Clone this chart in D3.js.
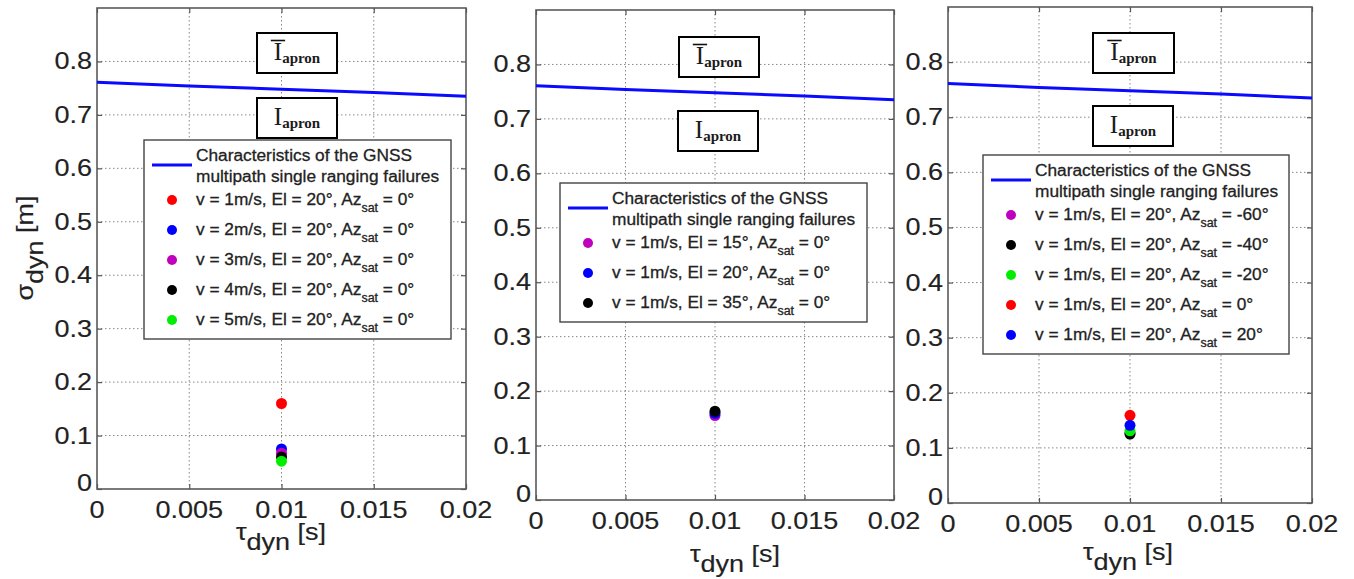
<!DOCTYPE html>
<html><head><meta charset="utf-8">
<script src="https://cdn.jsdelivr.net/npm/d3@7"></script>
<style>body{margin:0;background:#fff}svg{display:block}</style>
</head><body><svg id="c" width="1354" height="579"></svg>
<script>
// ---------- data ----------
const xTicks = [0, 0.005, 0.01, 0.015, 0.02];
const xTickLabels = ["0", "0.005", "0.01", "0.015", "0.02"];
const yTicks = [0, 0.1, 0.2, 0.3, 0.4, 0.5, 0.6, 0.7, 0.8];
const yTickLabels = ["0", "0.1", "0.2", "0.3", "0.4", "0.5", "0.6", "0.7", "0.8"];
const xLabel = ["τ", "dyn", " [s]"];
const yLabel = ["σ", "dyn", " [m]"];
const boundaryTau = [0, 0.005, 0.01, 0.015, 0.02];
const boundarySigma = [0.761, 0.754, 0.748, 0.742, 0.735];
const boundaryLabel = ["Characteristics of the GNSS", "multipath single ranging failures"];
const regionUpper = ["I", "apron", true];
const regionLower = ["I", "apron", false];

const panel1Labels = ["v = 1m/s, El = 20°, Az_{sat} = 0°", "v = 2m/s, El = 20°, Az_{sat} = 0°", "v = 3m/s, El = 20°, Az_{sat} = 0°", "v = 4m/s, El = 20°, Az_{sat} = 0°", "v = 5m/s, El = 20°, Az_{sat} = 0°"];
const panel1Colors = ["#ff0000", "#0000ff", "#bf00bf", "#000000", "#00ee00"];
const panel1Tau = [0.01, 0.01, 0.01, 0.01, 0.01];
const panel1Sigma = [0.16, 0.075, 0.067, 0.06, 0.052];

const panel2Labels = ["v = 1m/s, El = 15°, Az_{sat} = 0°", "v = 1m/s, El = 20°, Az_{sat} = 0°", "v = 1m/s, El = 35°, Az_{sat} = 0°"];
const panel2Colors = ["#bf00bf", "#0000ff", "#000000"];
const panel2Tau = [0.01, 0.01, 0.01];
const panel2Sigma = [0.155, 0.159, 0.163];

const panel3Labels = ["v = 1m/s, El = 20°, Az_{sat} = -60°", "v = 1m/s, El = 20°, Az_{sat} = -40°", "v = 1m/s, El = 20°, Az_{sat} = -20°", "v = 1m/s, El = 20°, Az_{sat} = 0°", "v = 1m/s, El = 20°, Az_{sat} = 20°"];
const panel3Colors = ["#bf00bf", "#000000", "#00ee00", "#ff0000", "#0000ff"];
const panel3Tau = [0.01, 0.01, 0.01, 0.01, 0.01];
const panel3Sigma = [0.127, 0.125, 0.131, 0.159, 0.141];

// ---------- layout ----------
const panels = [
  {l: 97, r: 466, t: 8, b: 489, lg: {x: 144, y: 140, w: 307}, up: [257, 33, 80, 40], lo: [257, 98, 80, 40],
   xl: [281, 540], yl: true, labels: panel1Labels, colors: panel1Colors, tau: panel1Tau, sigma: panel1Sigma},
  {l: 536, r: 894, t: 10, b: 500, lg: {x: 560, y: 183, w: 307}, up: [679, 37, 80, 40], lo: [678, 111, 80, 40],
   xl: [735, 562], yl: false, labels: panel2Labels, colors: panel2Colors, tau: panel2Tau, sigma: panel2Sigma},
  {l: 948, r: 1312, t: 7, b: 503, lg: {x: 983, y: 155, w: 306}, up: [1093, 33, 81, 40], lo: [1093, 106, 80, 40],
   xl: [1128, 560], yl: false, labels: panel3Labels, colors: panel3Colors, tau: panel3Tau, sigma: panel3Sigma}
];

const svg = d3.select("#c");
const FONT = "'Liberation Sans', Arial, Helvetica, sans-serif";
const SERIF = "'Liberation Serif', 'DejaVu Serif', serif";

function stext(g, x, y, size, anchor, rot, sx, sw) {
  const t = g.append("text")
    .attr("transform", `translate(${x},${y})${rot ? " rotate(" + rot + ")" : ""} scale(${sx || 1},1)`)
    .attr("font-family", FONT).attr("font-size", size).attr("fill", "#222")
    .attr("text-anchor", anchor || "start");
  if (sw) t.attr("stroke", "#222").attr("stroke-width", sw);
  return t;
}
function richText(t, str, size) {
  const re = /_\{([^}]*)\}/g;
  let last = 0, m;
  const parts = [];
  while ((m = re.exec(str))) {
    if (m.index > last) parts.push([str.slice(last, m.index), false]);
    parts.push([m[1], true]);
    last = re.lastIndex;
  }
  if (last < str.length) parts.push([str.slice(last), false]);
  let sub = false;
  parts.forEach(([s, isSub]) => {
    const ts = t.append("tspan").text(s);
    if (isSub && !sub) { ts.attr("dy", size * 0.4).attr("font-size", size * 0.72); sub = true; }
    else if (!isSub && sub) { ts.attr("dy", -size * 0.4); sub = false; }
  });
}

const TSX = 1.15, TFS = 23.5, LFS = 17.3;

panels.forEach(p => {
  const x = d3.scaleLinear().domain([0, 0.02]).range([p.l, p.r]);
  const y = d3.scaleLinear().domain([0, 0.9]).range([p.b, p.t]);
  const g = svg.append("g");

  // grid
  g.selectAll(".gx").data(xTicks.slice(1, -1)).enter().append("line")
    .attr("x1", d => x(d)).attr("x2", d => x(d)).attr("y1", p.t).attr("y2", p.b)
    .attr("stroke", "#888").attr("stroke-width", 1).attr("stroke-dasharray", "1.5,2.5");
  g.selectAll(".gy").data(yTicks.slice(1)).enter().append("line")
    .attr("x1", p.l).attr("x2", p.r).attr("y1", d => y(d)).attr("y2", d => y(d))
    .attr("stroke", "#888").attr("stroke-width", 1).attr("stroke-dasharray", "1.5,2.5");

  // axes via d3 axis (inward ticks, both sides)
  const ax = g.append("g").attr("transform", `translate(0,${p.b})`)
    .call(d3.axisBottom(x).tickValues(xTicks).tickSize(-5).tickFormat(""));
  const axT = g.append("g").attr("transform", `translate(0,${p.t})`)
    .call(d3.axisTop(x).tickValues(xTicks).tickSize(-5).tickFormat(""));
  const ay = g.append("g").attr("transform", `translate(${p.l},0)`)
    .call(d3.axisLeft(y).tickValues(yTicks).tickSize(-5).tickFormat(""));
  const ayR = g.append("g").attr("transform", `translate(${p.r},0)`)
    .call(d3.axisRight(y).tickValues(yTicks).tickSize(-5).tickFormat(""));
  [ax, axT, ay, ayR].forEach(a => {
    a.select(".domain").remove();
    a.selectAll("line").attr("stroke", "#555").attr("stroke-width", 1.2);
  });
  g.append("rect").attr("x", p.l).attr("y", p.t).attr("width", p.r - p.l).attr("height", p.b - p.t)
    .attr("fill", "none").attr("stroke", "#5a5a5a").attr("stroke-width", 1.6);

  // tick labels
  xTicks.forEach((v, i) => {
    stext(g, x(v), p.b + 29, TFS, "middle", 0, TSX, 0.15).text(xTickLabels[i]);
  });
  yTicks.forEach((v, i) => {
    stext(g, p.l - 5, y(v) + (i === 0 ? 2 : 8), TFS, "end", 0, TSX, 0.15).text(yTickLabels[i]);
  });

  // axis labels
  const xt = stext(g, p.xl[0], p.xl[1], TFS, "middle", 0, TSX, 0.15);
  xt.append("tspan").text(xLabel[0]);
  xt.append("tspan").text(xLabel[1]).attr("dy", 10);
  xt.append("tspan").text(xLabel[2]).attr("dy", -10);
  if (p.yl) {
    const yt = stext(g, 33, 248, TFS, "middle", -90, TSX, 0.15);
    yt.append("tspan").text(yLabel[0]);
    yt.append("tspan").text(yLabel[1]).attr("dy", 10);
    yt.append("tspan").text(yLabel[2]).attr("dy", -10);
  }

  // boundary line
  const line = d3.line().x((d, i) => x(boundaryTau[i])).y(d => y(d));
  g.append("path").datum(boundarySigma).attr("d", line)
    .attr("fill", "none").attr("stroke", "#0a0aff").attr("stroke-width", 3);

  // region annotation boxes
  [[p.up, regionUpper], [p.lo, regionLower]].forEach(([b, lab]) => {
    g.append("rect").attr("x", b[0]).attr("y", b[1]).attr("width", b[2]).attr("height", b[3])
      .attr("fill", "#fff").attr("stroke", "#000").attr("stroke-width", 2);
    const t = g.append("text").attr("x", b[0] + b[2] / 2).attr("y", b[1] + 27)
      .attr("text-anchor", "middle").attr("font-family", SERIF).attr("fill", "#1a1a1a");
    const ti = t.append("tspan").attr("font-size", 25).text(lab[0]);
    t.append("tspan").attr("font-size", 15).attr("font-weight", "bold").attr("dy", 3).text(lab[1]);
    if (lab[2]) {
      const bb = t.node().getBBox();
      const iw = ti.node().getComputedTextLength();
      const x0 = bb.x;
      g.append("line").attr("x1", x0 - 3).attr("x2", x0 + iw + 3)
        .attr("y1", b[1] + 7.5).attr("y2", b[1] + 7.5).attr("stroke", "#111").attr("stroke-width", 1.6);
    }
  });

  // legend
  const n = p.labels.length;
  const lg = p.lg;
  const lh = 45 + 30 * (n - 1) + 34;
  const L = g.append("g");
  L.append("rect").attr("x", lg.x).attr("y", lg.y).attr("width", lg.w).attr("height", lh)
    .attr("fill", "#fff").attr("stroke", "#444").attr("stroke-width", 1.4);
  L.append("line").attr("x1", lg.x + 8).attr("x2", lg.x + 48)
    .attr("y1", lg.y + 25).attr("y2", lg.y + 25).attr("stroke", "#0a0aff").attr("stroke-width", 3);
  stext(L, lg.x + 52, lg.y + 21, LFS, "start", 0, 1, 0.3).text(boundaryLabel[0]);
  stext(L, lg.x + 52, lg.y + 42, LFS, "start", 0, 1, 0.3).text(boundaryLabel[1]);
  p.labels.forEach((lab, i) => {
    const cy = lg.y + 60 + 30 * i;
    L.append("circle").attr("cx", lg.x + 28).attr("cy", cy).attr("r", 5).attr("fill", p.colors[i]);
    const t = stext(L, lg.x + 52, cy + 5, LFS, "start", 0, 1, 0.3);
    richText(t, lab, LFS);
  });

  // data points
  g.selectAll(".pt").data(p.sigma).enter().append("circle")
    .attr("cx", (d, i) => x(p.tau[i])).attr("cy", d => y(d)).attr("r", 5.5)
    .attr("fill", (d, i) => p.colors[i]);
});
</script></body></html>
